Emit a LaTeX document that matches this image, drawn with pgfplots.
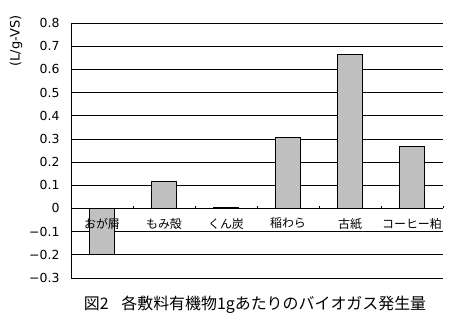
\documentclass[border=0pt]{standalone}
\usepackage{pgfplots}
\pgfplotsset{compat=1.18}
\usepackage{fontspec}
\setmainfont{DejaVu Sans}
\newfontfamily\jp{Noto Sans CJK JP}
\begin{document}
\begin{tikzpicture}
\path[use as bounding box] (0,0) rectangle (454bp,-323bp);
\begin{axis}[
  at={(71bp,-278bp)}, anchor=south west,
  scale only axis, width=372bp, height=255bp,
  xmin=-0.5, xmax=5.5, ymin=-0.3, ymax=0.8,
  axis x line*=middle, axis y line*=left,
  axis line style={-, black, line width=0.8pt},
  ytick={-0.3,-0.2,-0.1,0,0.1,0.2,0.3,0.4,0.5,0.6,0.7,0.8},
  yticklabels={−0.3,−0.2,−0.1,0,0.1,0.2,0.3,0.4,0.5,0.6,0.7,0.8},
  ymajorgrids, grid style={black, line width=0.8pt},
  major y tick style={draw=none},
  xtick={0,...,5},
  xticklabels={},
  major x tick style={draw=none},
  minor xtick={0.5,1.5,...,5.6},
  minor tick length=2.5bp,
  minor x tick style={black, line width=0.6pt},
  tick align=inside,
  clip=false,
  yticklabel style={font=\fontsize{12.5}{13}\selectfont, xshift=-8bp},
]
\addplot[ybar, bar width=25bp, fill={rgb,255:red,192;green,192;blue,192}, draw=black, line width=0.8pt]
 coordinates {(0,-0.197) (1,0.115) (2,0.003) (3,0.306) (4,0.665) (5,0.267)};
\begin{scope}[every node/.style={font=\jp\fontsize{12}{13}\selectfont, anchor=north, yshift=-6bp}]
\node at (axis cs:0,0) {おが屑};
\node at (axis cs:1,0) {もみ殻};
\node at (axis cs:2,0) {くん炭};
\node at (axis cs:3,0) {稲わら};
\node at (axis cs:4,0) {古紙};
\node at (axis cs:5,0) {コーヒー粕};
\end{scope}
\end{axis}
\node[rotate=90, font=\fontsize{13}{14}\selectfont] at (16bp,-41bp) {(L/g-VS)};
\node[font=\jp\fontsize{16}{18}\selectfont] at (255bp,-305bp) {図2\hspace{0.8em}各敷料有機物1gあたりのバイオガス発生量};
\end{tikzpicture}
\end{document}
